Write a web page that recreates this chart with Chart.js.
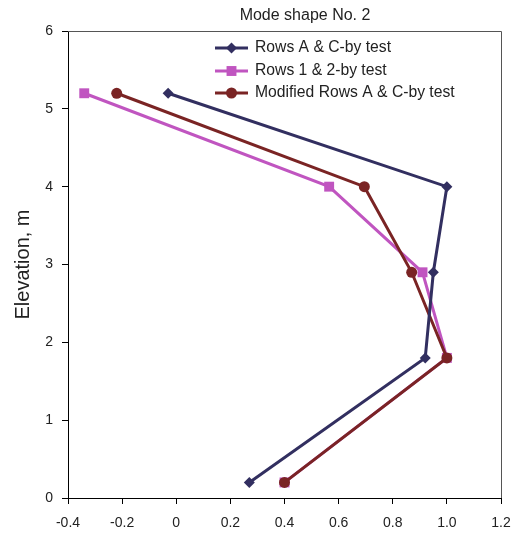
<!DOCTYPE html>
<html>
<head>
<meta charset="utf-8">
<script src="https://cdn.jsdelivr.net/npm/chart.js@4.4.1/dist/chart.umd.min.js"></script>
<style>
  html, body { margin: 0; padding: 0; background: #fff; }
</style>
</head>
<body>
<canvas id="mode-chart" width="513" height="537"></canvas>
<script>
const chartTitle = 'Mode shape No. 2';
const yAxisTitle = 'Elevation, m';

// elevation of each measured level (m)
const elevation = [5.2, 4.0, 2.9, 1.8, 0.2];

// normalized mode shape values
const rowsAC = [-0.03, 1.0, 0.95, 0.92, 0.27];
const rows12 = [-0.34, 0.565, 0.91, 1.0, 0.4];
const modifiedAC = [-0.22, 0.695, 0.87, 1.0, 0.4];

const seriesLabels = ['Rows A & C-by test', 'Rows 1 & 2-by test', 'Modified Rows A & C-by test'];
const xTickLabels = ['-0.4', '-0.2', '0', '0.2', '0.4', '0.6', '0.8', '1.0', '1.2'];
const yTickLabels = ['0', '1', '2', '3', '4', '5', '6'];

const FONT = "'Liberation Sans', Arial, sans-serif";
const TEXT = '#222';

const toPoints = (xs) => xs.map((x, i) => ({ x: x, y: elevation[i] }));

const borderBox = {
  id: 'borderBox',
  afterDraw(chart) {
    const { ctx, chartArea: a } = chart;
    ctx.save();
    ctx.strokeStyle = '#555';
    ctx.lineWidth = 1;
    ctx.beginPath();
    ctx.moveTo(a.left, a.top + 0.5);
    ctx.lineTo(a.right + 0.5, a.top + 0.5);
    ctx.lineTo(a.right + 0.5, a.bottom);
    ctx.stroke();
    ctx.restore();
  }
};

const titleText = {
  id: 'titleText',
  afterDraw(chart) {
    const ctx = chart.ctx;
    ctx.save();
    ctx.font = '16px ' + FONT;
    ctx.fillStyle = TEXT;
    ctx.textAlign = 'center';
    ctx.textBaseline = 'middle';
    ctx.fillText(chartTitle, 305, 16);
    ctx.restore();
  }
};

function marker(ctx, style, x, y, r) {
  ctx.beginPath();
  if (style === 'rectRot') {
    ctx.moveTo(x, y - r);
    ctx.lineTo(x + r, y);
    ctx.lineTo(x, y + r);
    ctx.lineTo(x - r, y);
    ctx.closePath();
  } else if (style === 'rect') {
    const s = r * Math.SQRT1_2;
    ctx.rect(x - s, y - s, 2 * s, 2 * s);
  } else {
    ctx.arc(x, y, r, 0, Math.PI * 2);
  }
  ctx.fill();
}

const insideLegend = {
  id: 'insideLegend',
  afterDraw(chart) {
    const ctx = chart.ctx;
    const rowsY = [48, 71, 93];
    ctx.save();
    chart.data.datasets.forEach((ds, i) => {
      const y = rowsY[i];
      ctx.strokeStyle = ds.borderColor;
      ctx.lineWidth = 3;
      ctx.beginPath();
      ctx.moveTo(215, y);
      ctx.lineTo(248, y);
      ctx.stroke();
      ctx.fillStyle = ds.pointBackgroundColor;
      marker(ctx, ds.pointStyle, 231.5, y, ds.pointRadius);
      ctx.font = '15.7px ' + FONT;
      ctx.fillStyle = TEXT;
      ctx.textAlign = 'left';
      ctx.textBaseline = 'middle';
      ctx.fillText(ds.label, 255, y);
    });
    ctx.restore();
  }
};

const series = [
  { label: seriesLabels[0], values: rowsAC, color: '#322f60', style: 'rectRot', r: 5.5, order: 0 },
  { label: seriesLabels[1], values: rows12, color: '#c055c0', style: 'rect', r: 7, order: 2 },
  { label: seriesLabels[2], values: modifiedAC, color: '#7a2424', style: 'circle', r: 5.5, order: 1 }
];

new Chart(document.getElementById('mode-chart'), {
  type: 'scatter',
  data: {
    datasets: series.map((s) => ({
      label: s.label,
      data: toPoints(s.values),
      showLine: true,
      borderColor: s.color,
      backgroundColor: s.color,
      pointBackgroundColor: s.color,
      pointBorderColor: s.color,
      pointBorderWidth: 0,
      pointStyle: s.style,
      pointRadius: s.r,
      borderWidth: 3,
      tension: 0,
      order: s.order
    }))
  },
  options: {
    responsive: false,
    animation: false,
    layout: { padding: { top: 31, right: 12, left: 0, bottom: 0 } },
    plugins: {
      legend: { display: false },
      tooltip: { enabled: false }
    },
    scales: {
      x: {
        type: 'linear',
        min: -0.4,
        max: 1.2,
        afterFit: (scale) => {
          scale.height = 39;
          scale.paddingLeft = 0;
          scale.paddingRight = 0;
        },
        border: { color: '#000', width: 1 },
        grid: { drawOnChartArea: false, drawTicks: true, tickLength: 6, color: '#000' },
        ticks: {
          stepSize: 0.2,
          padding: 11,
          maxRotation: 0,
          color: TEXT,
          font: { family: FONT, size: 14 },
          callback: (value, index) => xTickLabels[index]
        }
      },
      y: {
        type: 'linear',
        min: 0,
        max: 6,
        afterFit: (scale) => { scale.width = 68; },
        border: { color: '#000', width: 1 },
        grid: { drawOnChartArea: false, drawTicks: true, tickLength: 6, color: '#000' },
        ticks: {
          stepSize: 1,
          padding: 9,
          color: TEXT,
          font: { family: FONT, size: 14 },
          callback: (value, index) => yTickLabels[index]
        },
        title: {
          display: true,
          text: yAxisTitle,
          color: TEXT,
          font: { family: FONT, size: 20 },
          padding: { top: 11, bottom: 0 }
        }
      }
    }
  },
  plugins: [borderBox, titleText, insideLegend]
});
</script>
</body>
</html>
